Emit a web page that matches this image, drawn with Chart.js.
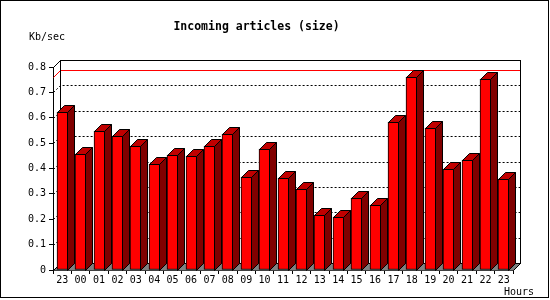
<!DOCTYPE html>
<html>
<head>
<meta charset="utf-8">
<script src="https://cdn.jsdelivr.net/npm/chart.js@4.4.1/dist/chart.umd.min.js"></script>
<style>
  body { margin: 0; background: #fff; }
  #wrap { width: 550px; height: 300px; }
</style>
</head>
<body>
<div id="wrap"><canvas id="c" width="550" height="300"></canvas></div>
<script>
const hours = ['23', '00', '01', '02', '03', '04', '05', '06', '07', '08', '09', '10', '11',
  '12', '13', '14', '15', '16', '17', '18', '19', '20', '21', '22', '23'];
const sizeKb = [0.621, 0.456, 0.546, 0.528, 0.489, 0.419, 0.452, 0.448, 0.489, 0.535, 0.365, 0.476, 0.361,
  0.318, 0.216, 0.208, 0.283, 0.255, 0.582, 0.759, 0.558, 0.397, 0.432, 0.751, 0.357];
const yMax = 0.8;
const yStep = 0.1;

const DEPTH = 7;
const MONO = "'DejaVu Sans Mono', monospace";

Chart.defaults.font.family = MONO;
Chart.defaults.color = '#000';

// fake 3d: back wall, floor, bar tops and sides
const depth3d = {
  id: 'depth3d',
  afterDatasetsUpdate(chart) {
    chart.getDatasetMeta(0).data.forEach(bar => {
      bar.x = Math.round(bar.x - 5.5) + 5.5;
      bar.y = Math.round(bar.y);
    });
  },
  beforeDatasetsDraw(chart) {
    const { ctx, chartArea: a, scales: { y } } = chart;
    const L = Math.round(a.left) + 0.5;
    const R = Math.round(a.right) + 0.5;
    const B = Math.round(y.getPixelForValue(0)) + 0.5;
    const T = Math.round(y.getPixelForValue(yMax)) + 0.5;
    ctx.save();
    ctx.lineWidth = 1;

    // floor
    ctx.fillStyle = '#808080';
    ctx.beginPath();
    ctx.moveTo(L, B); ctx.lineTo(R, B); ctx.lineTo(R + DEPTH, B - DEPTH); ctx.lineTo(L + DEPTH, B - DEPTH);
    ctx.closePath();
    ctx.fill();

    // dotted grid on back wall and left wall
    ctx.strokeStyle = '#000';
    ctx.setLineDash([2, 2]);
    for (let v = yStep; v < yMax - 0.01; v += yStep) {
      const py = Math.round(y.getPixelForValue(v)) + 0.5;
      ctx.beginPath();
      ctx.moveTo(L, py); ctx.lineTo(L + DEPTH, py - DEPTH); ctx.lineTo(R + DEPTH, py - DEPTH);
      ctx.stroke();
    }
    ctx.setLineDash([]);

    // max line
    const peak = Math.max(...sizeKb);
    const pm = Math.round(y.getPixelForValue(peak)) + 0.5;
    ctx.strokeStyle = '#ff0000';
    ctx.beginPath();
    ctx.moveTo(L, pm); ctx.lineTo(L + DEPTH, pm - DEPTH); ctx.lineTo(R + DEPTH, pm - DEPTH);
    ctx.stroke();

    // back wall frame + corner edges
    ctx.strokeStyle = '#000';
    ctx.strokeRect(L + DEPTH, T - DEPTH, R - L, B - T);
    ctx.beginPath();
    ctx.moveTo(L, T); ctx.lineTo(L + DEPTH, T - DEPTH);
    ctx.moveTo(L, B); ctx.lineTo(L + DEPTH, B - DEPTH);
    ctx.moveTo(R, B); ctx.lineTo(R + DEPTH, B - DEPTH);
    ctx.stroke();
    ctx.restore();
  },
  afterDatasetsDraw(chart) {
    const { ctx, scales: { y } } = chart;
    const B = Math.round(y.getPixelForValue(0)) + 0.5;
    ctx.save();
    ctx.lineWidth = 1;
    ctx.strokeStyle = '#000';
    chart.getDatasetMeta(0).data.forEach(bar => {
      const l = bar.x - bar.width / 2 + 0.5;
      const r = bar.x + bar.width / 2 - 0.5;
      const t = bar.y + 0.5;
      // top
      ctx.fillStyle = '#c00000';
      ctx.beginPath();
      ctx.moveTo(l, t); ctx.lineTo(r, t); ctx.lineTo(r + DEPTH, t - DEPTH); ctx.lineTo(l + DEPTH, t - DEPTH);
      ctx.closePath();
      ctx.fill(); ctx.stroke();
      // side
      ctx.fillStyle = '#800000';
      ctx.beginPath();
      ctx.moveTo(r, t); ctx.lineTo(r + DEPTH, t - DEPTH); ctx.lineTo(r + DEPTH, B - DEPTH); ctx.lineTo(r, B);
      ctx.closePath();
      ctx.fill(); ctx.stroke();
    });
    ctx.restore();
  },
  afterDraw(chart) {
    const ctx = chart.ctx;
    ctx.save();
    ctx.strokeStyle = '#000';
    ctx.lineWidth = 1;
    ctx.strokeRect(0.5, 0.5, 548, 297);
    ctx.fillStyle = '#000';
    ctx.font = '10px ' + MONO;
    ctx.textBaseline = 'middle';
    ctx.textAlign = 'left';
    ctx.fillText('Kb/sec', 29, 37);
    ctx.textAlign = 'right';
    ctx.fillText('Hours', 534, 292);
    ctx.restore();
  }
};

new Chart(document.getElementById('c'), {
  type: 'bar',
  data: {
    labels: hours,
    datasets: [{
      data: sizeKb,
      backgroundColor: '#ff0000',
      borderColor: '#000',
      borderWidth: 1,
      borderSkipped: false,
      barThickness: 11
    }]
  },
  options: {
    responsive: false,
    animation: false,
    events: [],
    layout: { padding: { left: 0, right: 37, top: 0, bottom: 0 } },
    plugins: {
      legend: { display: false },
      tooltip: { enabled: false },
      title: {
        display: true,
        text: 'Incoming articles (size)',
        color: '#000',
        font: { size: 11.5, weight: 'bold', family: MONO },
        padding: { top: 20, bottom: 33.2 }
      }
    },
    scales: {
      x: {
        grid: { drawOnChartArea: false, drawTicks: true, tickLength: 4, color: '#000', offset: true },
        border: { color: '#000' },
        ticks: { font: { size: 10 }, padding: 0, maxRotation: 0, autoSkip: false },
        afterFit(s) { s.height = 30; }
      },
      y: {
        min: 0,
        max: yMax,
        grid: { drawOnChartArea: false, drawTicks: true, tickLength: 4, color: '#000' },
        border: { color: '#000' },
        ticks: {
          stepSize: yStep,
          padding: 3,
          font: { size: 10 },
          callback: v => (v === 0 ? '0' : v.toFixed(1))
        },
        afterFit(s) { s.width = 53; }
      }
    }
  },
  plugins: [depth3d]
});
</script>
</body>
</html>
